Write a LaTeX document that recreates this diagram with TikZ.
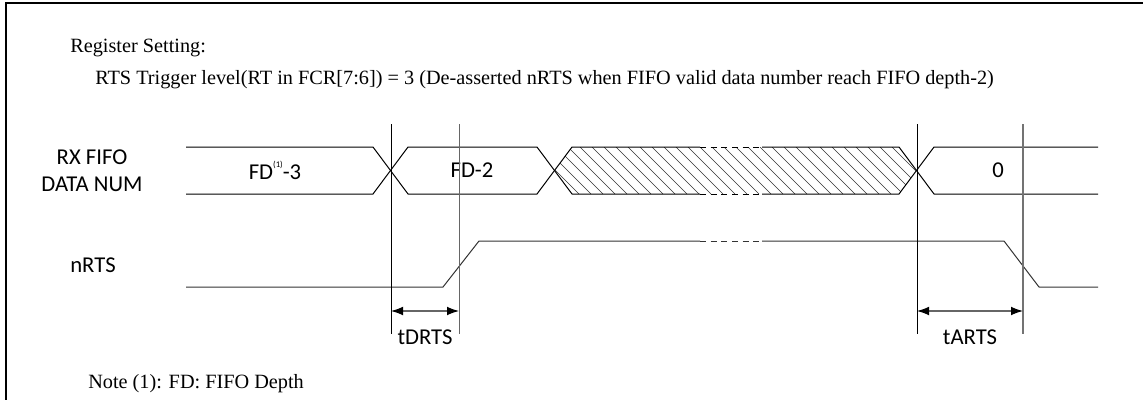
\documentclass[tikz,border=0pt]{standalone}
\usepackage{fontspec}
\setmainfont{Liberation Serif}
\newfontfamily\calfont{Carlito}
\usetikzlibrary{arrows.meta}

\tikzset{
  sig/.style={line width=0.75pt, black},
  rts/.style={line width=0.75pt, black!80},
  gap/.style={dash pattern=on 4.5pt off 3.5pt},
  hatch/.style={line width=0.5pt, black!80},
  markline/.style={line width=0.55pt},
  dim/.style={line width=0.8pt, black!60, {Latex[black,length=9pt,width=6.5pt]}-{Latex[black,length=9pt,width=6.5pt]}},
  lbl/.style={font=\calfont\fontsize{17}{20.5}\selectfont, align=center},
  txt/.style={font=\fontsize{15.2}{18}\selectfont, anchor=base west, inner sep=0pt}
}

\begin{document}
\begin{tikzpicture}[x=0.75pt,y=-0.75pt]
\useasboundingbox (0,0) rectangle (1143,400);
\draw[line width=0.8pt] (6,400) -- (6,3) -- (1143,3);

% register setting
\node[txt] (reg) at (70,52) {Register Setting:};
\node[txt] (rtl) at (95,84) {RTS Trigger level(RT in FCR[7:6]) = 3 (De-asserted nRTS when FIFO valid data number reach FIFO depth-2)};
\node[txt] (note) at (88,388) {Note (1): FD: FIFO Depth};

% signal names
\node[lbl] (rx) at (92,170.5) {RX FIFO\\DATA NUM};
\node[lbl] (nrts) at (93,265) {nRTS};

% hatched bus
\begin{scope}
  \clip (554.5,170.5) -- (572,147) -- (899,147) -- (916.5,170.5) -- (899,194) -- (572,194) -- cycle;
  \foreach \x in {520,532,...,920}
    \draw[hatch] (\x,147) -- ++(47,47);
\end{scope}

% bus lines
\draw[sig] (186,147) -- (373,147) -- (408,194) -- (537,194) -- (572,147) -- (700,147);
\draw[sig] (186,194) -- (373,194) -- (408,147) -- (537,147) -- (572,194) -- (700,194);
\draw[sig,gap] (700,147) -- (762,147);
\draw[sig,gap] (700,194) -- (762,194);
\draw[sig] (762,147) -- (899,147) -- (934,194) -- (1098,194);
\draw[sig] (762,194) -- (899,194) -- (934,147) -- (1098,147);

\node[lbl] (fd3) at (275,170.5) {FD\raisebox{1.1ex}{\fontsize{6.5}{6.5}\selectfont(1)}-3};
\node[lbl] (fd2) at (472,170.5) {FD-2};
\node[lbl] (zero) at (998,170.5) {0};

% nRTS
\draw[rts] (186,287) -- (443,287) -- (479,241) -- (700,241);
\draw[rts,gap] (700,241) -- (762,241);
\draw[rts] (762,241) -- (1004,241) -- (1039,287) -- (1098,287);

% markers
\draw[markline, black] (391,124) -- (391,334);
\draw[markline, black!60] (459,124) -- (459,334);
\draw[markline, black] (917,124) -- (917,334);
\draw[markline, black!55, line width=0.9pt] (1023,124) -- (1023,334);

\coordinate (d1) at (391,311);
\coordinate (d2) at (459,311);
\coordinate (a1) at (917,311);
\coordinate (a2) at (1023,311);
\draw[dim] (d1) -- (d2);
\draw[dim] (a1) -- (a2);
\node[lbl] (tdrts) at (425,337) {tDRTS};
\node[lbl] (tarts) at (970,337) {tARTS};
\end{tikzpicture}
\end{document}
